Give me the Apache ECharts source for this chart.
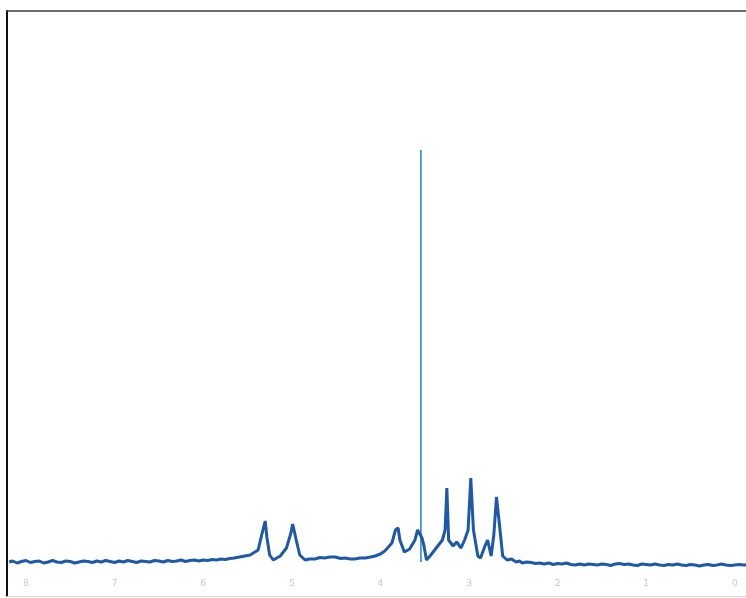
<!DOCTYPE html>
<html>
<head>
<meta charset="utf-8">
<script src="https://cdn.jsdelivr.net/npm/echarts@6/dist/echarts.min.js"></script>
<style>html,body{margin:0;padding:0;background:#fff;}#c{width:746px;height:598px;}</style>
</head>
<body>
<div id="c"></div>
<script>
// chemical shift (ppm) and intensity (arbitrary units)
const spectrumPpm = [
  8.19, 8.15, 8.10, 8.05, 8.00, 7.95, 7.90, 7.85, 7.80, 7.75, 7.70, 7.65, 7.60, 7.55, 7.50, 7.45,
  7.40, 7.35, 7.30, 7.25, 7.20, 7.15, 7.10, 7.05, 7.00, 6.95, 6.90, 6.85, 6.80, 6.75, 6.70, 6.65,
  6.60, 6.55, 6.50, 6.45, 6.40, 6.35, 6.30, 6.25, 6.20, 6.15, 6.10, 6.05, 6.00, 5.95, 5.90, 5.85,
  5.80, 5.75, 5.70, 5.65, 5.59, 5.47, 5.38, 5.34, 5.30, 5.28, 5.25, 5.21, 5.13, 5.06, 5.01, 4.99,
  4.95, 4.91, 4.85, 4.80, 4.74, 4.68, 4.63, 4.57, 4.51, 4.45, 4.40, 4.34, 4.29, 4.23, 4.17, 4.11,
  4.06, 4.00, 3.95, 3.87, 3.83, 3.80, 3.78, 3.73, 3.67, 3.61, 3.58, 3.555, 3.53, 3.51, 3.48, 3.44,
  3.37, 3.30, 3.27, 3.25, 3.23, 3.18, 3.14, 3.09, 3.05, 3.01, 2.98, 2.95, 2.90, 2.87, 2.82, 2.79,
  2.75, 2.72, 2.69, 2.65, 2.62, 2.57, 2.52, 2.47, 2.43, 2.40, 2.35, 2.30, 2.25, 2.20, 2.15, 2.10,
  2.05, 2.00, 1.95, 1.90, 1.85, 1.80, 1.75, 1.70, 1.65, 1.60, 1.55, 1.50, 1.45, 1.40, 1.35, 1.30,
  1.25, 1.20, 1.15, 1.10, 1.05, 1.00, 0.95, 0.90, 0.85, 0.80, 0.75, 0.70, 0.65, 0.60, 0.55, 0.50,
  0.45, 0.40, 0.35, 0.30, 0.25, 0.20, 0.15, 0.10, 0.05, 0.00, -0.05, -0.10, -0.13
];
const spectrumInt = [
  0, 1, -1, 0.5, 1.5, -0.5, 0.5, 1, -1, 0, 1.5, 0, -0.5, 1, 0.5, -1,
  0, 1, 0.5, -0.5, 1, 0, 1.5, 0.5, -0.5, 1, 0, 1.5, 0.5, -0.5, 1, 0.5,
  0, 1.5, 1, 0, 1.5, 0.5, 1, 2, 0.5, 1.5, 2, 1, 2, 1.5, 2.5, 2,
  3, 2.5, 3.5, 4, 5, 7, 12, 27, 41, 24, 7, 2, 6, 14, 29, 38,
  22, 7, 2, 3, 3, 4.5, 4, 5, 5, 3.5, 4, 3, 3, 4, 4, 5,
  6, 8, 11, 19, 32, 34, 22, 10, 13, 22, 32, 28, 24, 17, 2, 6,
  14, 22, 32, 74, 22, 16, 20, 14, 22, 32, 84, 32, 6, 4, 16, 22,
  6, 27, 65, 32, 6, 2, 3, 0, 1, -1, 0, -0.5, -1.5, -1, -2, -1,
  -2.5, -1.5, -2, -1, -2.5, -3, -2, -3, -2, -2.5, -3, -2, -2.5, -3.5, -2, -1.5,
  -2.5, -2, -3, -3.5, -2, -2.5, -3, -2, -3, -3.5, -2.5, -3, -2, -3, -3.5, -2.5,
  -3, -4, -3, -2.5, -3.5, -3, -2, -3, -3.5, -3, -2.5, -3, -3
];
// the tall singlet
const singletPpm = [3.543, 3.543];
const singletInt = [0, 412];
// axis tick labels
const tickPpm = [8, 7, 6, 5, 4, 3, 2, 1, 0];

const chart = echarts.init(document.getElementById('c'), null, {renderer: 'canvas'});
const pairs = (xs, ys) => xs.map((x, i) => [x, ys[i]]);

chart.setOption({
  animation: false,
  backgroundColor: '#ffffff',
  grid: {left: 7, right: 0, top: 11, bottom: 2},
  xAxis: [
    {
      type: 'value', min: -0.126, max: 8.214, inverse: true, position: 'bottom',
      axisLine: {show: true, onZero: false, lineStyle: {color: '#d4d4d4', width: 1}},
      axisTick: {show: false},
      splitLine: {show: false},
      axisLabel: {
        inside: true, margin: 8, fontSize: 9, color: '#c8c8c8',
        fontFamily: 'DejaVu Sans',
        customValues: tickPpm,
        formatter: v => String(v)
      }
    },
    {
      type: 'value', min: -0.126, max: 8.214, inverse: true, position: 'top',
      axisLine: {show: true, onZero: false, lineStyle: {color: '#3a3a3a', width: 1.5}},
      axisTick: {show: false}, axisLabel: {show: false}, splitLine: {show: false}
    }
  ],
  yAxis: {
    type: 'value', min: -34, max: 551, position: 'left',
    axisLine: {show: true, onZero: false, lineStyle: {color: '#111', width: 2}},
    axisTick: {show: false}, axisLabel: {show: false}, splitLine: {show: false}
  },
  series: [
    {
      type: 'line', data: pairs(spectrumPpm, spectrumInt), symbol: 'none',
      lineStyle: {color: '#1d59a6', width: 3}, z: 3
    },
    {
      type: 'line', data: pairs(singletPpm, singletInt), symbol: 'none',
      lineStyle: {color: '#3f96d8', width: 1.8}, z: 2
    }
  ]
});
</script>
</body>
</html>
